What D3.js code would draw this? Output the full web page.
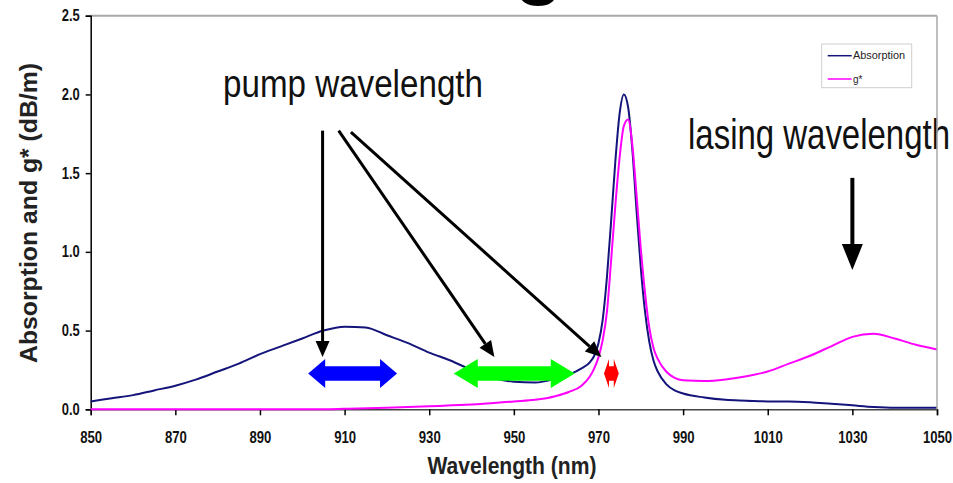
<!DOCTYPE html>
<html><head><meta charset="utf-8">
<script src="https://cdn.jsdelivr.net/npm/d3@7"></script>
<style>html,body{margin:0;padding:0;background:#fff;}svg{display:block;}</style>
</head><body>
<svg id="c" width="953" height="483"></svg>
<script>
// ---- data ----
const absWl = [850,855,860,865,870,875,880,885,890,895,900,905,910,915,920,925,930,935,940,945,950,955,960,963,966,968,969,970,971,972,973,974,975,976,977,978,979,980,981,982,983,984,986,988,990,995,1000,1005,1010,1015,1020,1025,1030,1035,1040,1045,1050];
const absVal = [0.05,0.07,0.09,0.12,0.15,0.19,0.24,0.29,0.35,0.40,0.45,0.50,0.525,0.52,0.47,0.42,0.36,0.31,0.25,0.20,0.175,0.17,0.195,0.22,0.26,0.30,0.34,0.42,0.57,0.84,1.20,1.58,1.88,2.0,1.92,1.65,1.26,0.90,0.62,0.43,0.31,0.24,0.16,0.12,0.10,0.075,0.06,0.055,0.05,0.05,0.045,0.035,0.025,0.015,0.01,0.01,0.01];
const gWl = [850,860,870,880,890,900,905,910,920,930,940,950,955,960,963,966,968,969,970,971,972,973,974,975,976,977,978,979,980,981,982,983,984,986,988,990,995,1000,1005,1010,1015,1020,1025,1030,1035,1040,1045,1050];
const gVal = [0,0,0,0,0,0,0,0.003,0.01,0.02,0.03,0.05,0.06,0.085,0.11,0.15,0.21,0.26,0.33,0.44,0.62,0.95,1.30,1.60,1.80,1.84,1.68,1.36,1.02,0.74,0.52,0.39,0.32,0.24,0.20,0.185,0.18,0.19,0.21,0.24,0.29,0.34,0.40,0.46,0.48,0.45,0.41,0.38];
const xTicks = [850,870,890,910,930,950,970,990,1010,1030,1050];
const yTicks = [0,0.5,1.0,1.5,2.0,2.5];
const seriesNames = ["Absorption","g*"];
const seriesColors = ["#14147a","#ff00ff"];
// annotations in data units
const pumpArrows = [[904.8,1.77,904.8,0.332],[908.6,1.77,945.4,0.332],[911.5,1.76,970.7,0.332]];
const lasingArrow = [1030,1.47,1030,0.885];
const doubleArrows = [{x0:901.4,x1:922.4,y:0.227,color:"#0000ff",head:17},{x0:935.8,x1:964.4,y:0.227,color:"#00ff00",head:24},{x0:971.3,x1:974.8,y:0.227,color:"#ff0000",head:5}];

const svg = d3.select("#c");
const x = d3.scaleLinear().domain([850,1050]).range([90.7,937]);
const y = d3.scaleLinear().domain([0,2.5]).range([409.3,15.7]);

// title fragment
svg.append("text").attr("x",539).attr("y",-11).attr("text-anchor","middle")
  .attr("font-family","Liberation Sans, Arial, sans-serif").attr("font-weight","bold").attr("font-size",80).text("g");

// frame
svg.append("line").attr("x1",x(850)).attr("x2",x(1050)).attr("y1",y(2.5)).attr("y2",y(2.5)).attr("stroke","#a8a8a8").attr("stroke-width",2);

// axes
const tickFont = "Liberation Sans, Arial, sans-serif";
const charW = s => s.split("").reduce((a,c)=>a+(c==="."?3.4:7.3),0);
const xa = svg.append("g").attr("transform",`translate(0,${y(0)})`)
  .call(d3.axisBottom(x).tickValues(xTicks).tickSize(6).tickPadding(16).tickFormat(d3.format("d")));
xa.select(".domain").attr("stroke","#444").attr("stroke-width",1.5);
xa.selectAll(".tick line").attr("stroke","#000").attr("stroke-width",1.5);
xa.selectAll("text").attr("font-family",tickFont).attr("font-weight","bold").attr("font-size",16).attr("fill","#111")
  .attr("textLength",function(){return charW(this.textContent);}).attr("lengthAdjust","spacingAndGlyphs");

const ya = svg.append("g").attr("transform",`translate(${x(850)},0)`)
  .call(d3.axisLeft(y).tickValues(yTicks).tickSize(5).tickPadding(6).tickFormat(d3.format(".1f")));
ya.select(".domain").attr("stroke","#000").attr("stroke-width",1.5);
ya.selectAll(".tick line").attr("stroke","#000").attr("stroke-width",1.5);
ya.selectAll("text").attr("font-family",tickFont).attr("font-weight","bold").attr("font-size",16).attr("fill","#111")
  .attr("textLength",function(){return charW(this.textContent);}).attr("lengthAdjust","spacingAndGlyphs");

// axis titles
svg.append("text").attr("x",512).attr("y",474).attr("text-anchor","middle")
  .attr("font-family",tickFont).attr("font-weight","bold").attr("font-size",23)
  .attr("textLength",169).attr("lengthAdjust","spacingAndGlyphs").attr("fill","#222").text("Wavelength (nm)");
svg.append("text").attr("transform","translate(37,213) rotate(-90)").attr("text-anchor","middle")
  .attr("font-family","Liberation Sans, Arial, sans-serif").attr("font-size",24).attr("font-weight",600)
  .attr("textLength",300).attr("lengthAdjust","spacingAndGlyphs").attr("fill","#222").text("Absorption and g* (dB/m)");

// curves
const line = d3.line().x(d=>x(d[0])).y(d=>y(d[1])).curve(d3.curveMonotoneX);
const absData = absWl.map((w,i)=>[w,absVal[i]]);
const gData = gWl.map((w,i)=>[w,gVal[i]]);
svg.append("path").datum(absData).attr("d",line).attr("fill","none").attr("stroke",seriesColors[0]).attr("stroke-width",2);
svg.append("path").datum(gData).attr("d",line).attr("fill","none").attr("stroke",seriesColors[1]).attr("stroke-width",2);

// legend
const lg = svg.append("g");
lg.append("rect").attr("x",821.7).attr("y",44).attr("width",90).attr("height",43.7).attr("fill","#fff").attr("stroke","#cfcfcf").attr("stroke-width",1);
seriesNames.forEach((n,i)=>{
  const yy = 55.7 + i*23.3;
  lg.append("line").attr("x1",827.7).attr("x2",851.7).attr("y1",yy).attr("y2",yy).attr("stroke",seriesColors[i]).attr("stroke-width",1.5);
  const t = lg.append("text").attr("x",853).attr("y",yy+3.5).attr("font-family","Liberation Sans, Arial, sans-serif").attr("font-size",10).attr("fill","#222").text(n);
  if(i===0) t.attr("textLength",52).attr("lengthAdjust","spacingAndGlyphs");
});

// annotations text
svg.append("text").attr("x",223).attr("y",97).attr("font-family","Liberation Sans, Arial, sans-serif").attr("font-size",38)
  .attr("textLength",260).attr("lengthAdjust","spacingAndGlyphs").attr("fill","#111").text("pump wavelength");
svg.append("text").attr("x",688).attr("y",149).attr("font-family","Liberation Sans, Arial, sans-serif").attr("font-size",42)
  .attr("textLength",262).attr("lengthAdjust","spacingAndGlyphs").attr("fill","#111").text("lasing wavelength");

// right frame (drawn over text, as in reference)
svg.append("line").attr("x1",x(1050)).attr("x2",x(1050)).attr("y1",y(2.5)).attr("y2",y(0)).attr("stroke","#a8a8a8").attr("stroke-width",1.5);

// arrow helper
function arrow(x1,y1,x2,y2,headLen,headW,sw){
  const ang = Math.atan2(y2-y1,x2-x1);
  const bx = x2 - headLen*Math.cos(ang), by = y2 - headLen*Math.sin(ang);
  svg.append("line").attr("x1",x1).attr("y1",y1).attr("x2",bx).attr("y2",by).attr("stroke","#000").attr("stroke-width",sw);
  const px = -Math.sin(ang)*headW/2, py = Math.cos(ang)*headW/2;
  svg.append("path").attr("d",`M${x2},${y2}L${bx+px},${by+py}L${bx-px},${by-py}Z`).attr("fill","#000");
}
pumpArrows.forEach(a=>arrow(x(a[0]),y(a[1]),x(a[2]),y(a[3]),16,14,3));
arrow(x(lasingArrow[0]),y(lasingArrow[1]),x(lasingArrow[2]),y(lasingArrow[3]),26,21,4);

// double arrows
doubleArrows.forEach(d=>{
  const x0=x(d.x0), x1=x(d.x1), yc=y(d.y), hh=14.5, sh=7.3, h=d.head;
  const p = `M${x0},${yc}L${x0+h},${yc-hh}L${x0+h},${yc-sh}L${x1-h},${yc-sh}L${x1-h},${yc-hh}L${x1},${yc}L${x1-h},${yc+hh}L${x1-h},${yc+sh}L${x0+h},${yc+sh}L${x0+h},${yc+hh}Z`;
  svg.append("path").attr("d",p).attr("fill",d.color);
});
</script>
</body></html>
